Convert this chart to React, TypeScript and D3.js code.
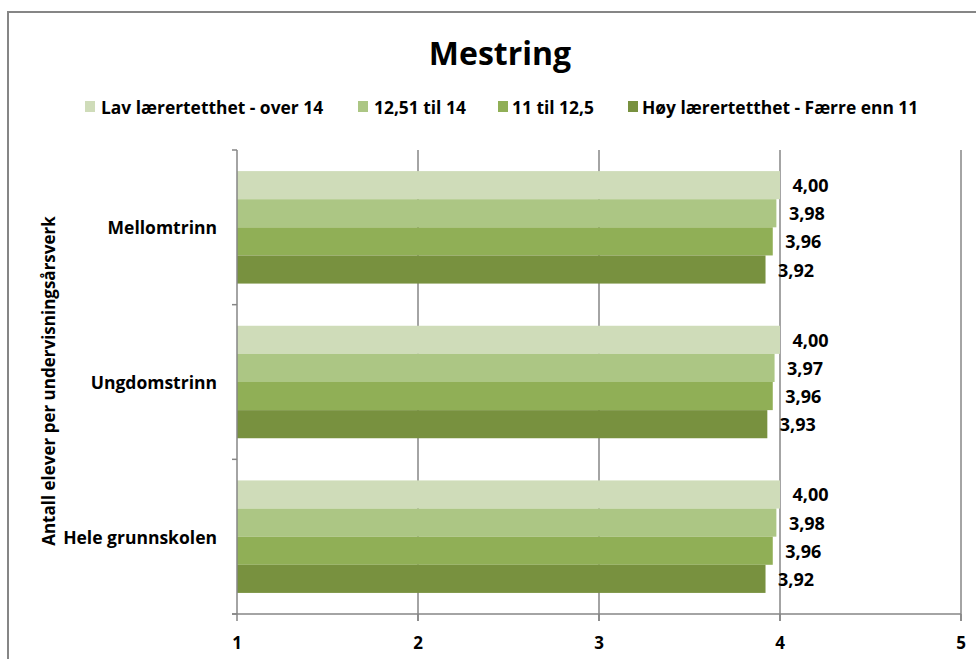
import React from "react";
import * as d3 from "d3";

const categories = ["Mellomtrinn", "Ungdomstrinn", "Hele grunnskolen"];
const seriesNames = [
  "Lav lærertetthet - over 14",
  "12,51 til 14",
  "11 til 12,5",
  "Høy lærertetthet - Færre enn 11",
];
const seriesColors = ["#CFDCB9", "#ACC684", "#90AF56", "#78913F"];
const lavValues = [4.0, 4.0, 4.0];
const s1251Values = [3.98, 3.97, 3.98];
const s11Values = [3.96, 3.96, 3.96];
const hoyValues = [3.92, 3.93, 3.92];
const xTicks = [1, 2, 3, 4, 5];
const title = "Mestring";
const yTitle = "Antall elever per undervisningsårsverk";

const seriesValues = [lavValues, s1251Values, s11Values, hoyValues];

const W = 976;
const H = 659;
const FONT = "'Open Sans', sans-serif";

export default function App() {
  const left = 237;
  const right = 961;
  const top = 150;
  const bottom = 614;
  const x = d3.scaleLinear().domain([1, 5]).range([left, right]);
  const y = d3.scaleBand<string>().domain(categories).range([top, bottom]);
  const bw = y.bandwidth();
  const inner = d3
    .scaleBand<number>()
    .domain(d3.range(seriesNames.length))
    .range([0, bw])
    .paddingInner(0)
    .paddingOuter(0.75);
  const fmt = (v: number) => d3.format(".2f")(v).replace(".", ",");
  const gridColor = "#868686";

  const legendItems = [
    { sx: 85, tx: 101 },
    { sx: 358, tx: 374 },
    { sx: 498, tx: 512 },
    { sx: 628, tx: 642 },
  ];

  return (
    <svg
      width={W}
      height={H}
      style={{ position: "absolute", left: 0, top: 0, background: "#fff" }}
      fontFamily={FONT}
    >
      <rect x={8} y={12} width={W} height={H} fill="#fff" stroke="#868686" strokeWidth={2} />
      <text x={500} y={65} textAnchor="middle" fontSize={32} fontWeight="bold" fill="#000">
        {title}
      </text>
      {seriesNames.map((n, i) => (
        <g key={n}>
          <rect x={legendItems[i].sx} y={101} width={10} height={11} fill={seriesColors[i]} />
          <text x={legendItems[i].tx} y={107} dominantBaseline="central" fontSize={17.4} fontWeight="bold" fill="#000">
            {n}
          </text>
        </g>
      ))}
      {/* gridlines */}
      {xTicks.slice(1).map((t) => (
        <line key={t} x1={x(t)} x2={x(t)} y1={top} y2={bottom + 7} stroke={gridColor} strokeWidth={1.5} />
      ))}
      {/* bars */}
      {categories.map((c, ci) => (
        <g key={c}>
          {seriesValues.map((vals, si) => (
            <rect
              key={si}
              x={x(1)}
              y={(y(c) as number) + (inner(si) as number)}
              width={x(vals[ci]) - x(1)}
              height={inner.bandwidth()}
              fill={seriesColors[si]}
            />
          ))}
        </g>
      ))}
      {/* axes */}
      <line x1={left} x2={left} y1={top} y2={bottom} stroke={gridColor} strokeWidth={1.5} />
      {[top, ...categories.map((c) => (y(c) as number) + bw)].map((ty, i) => (
        <line key={i} x1={left - 5} x2={left} y1={ty} y2={ty} stroke={gridColor} strokeWidth={1.5} />
      ))}
      <line x1={left - 5} x2={right} y1={bottom} y2={bottom} stroke={gridColor} strokeWidth={1.5} />
      {xTicks.map((t) => (
        <g key={t}>
          <line x1={x(t)} x2={x(t)} y1={bottom} y2={bottom + 7} stroke={gridColor} strokeWidth={1.5} />
          <text x={x(t)} y={642} textAnchor="middle" dominantBaseline="central" fontSize={17} fontWeight="bold" fill="#000">
            {t}
          </text>
        </g>
      ))}
      {/* category labels */}
      {categories.map((c) => (
        <text
          key={c}
          x={217}
          y={(y(c) as number) + bw / 2}
          textAnchor="end"
          dominantBaseline="central"
          fontSize={17.5}
          fontWeight="bold"
          fill="#000"
        >
          {c}
        </text>
      ))}
      {/* data labels */}
      {categories.map((c, ci) =>
        seriesValues.map((vals, si) => (
          <text
            key={`${ci}-${si}`}
            x={x(vals[ci]) + 12.5}
            y={(y(c) as number) + (inner(si) as number) + inner.bandwidth() / 2}
            dominantBaseline="central"
            fontSize={18}
            fontWeight="bold"
            fill="#000"
          >
            {fmt(vals[ci])}
          </text>
        ))
      )}
      <text
        transform={`translate(48,${(top + bottom) / 2 - 1}) rotate(-90)`}
        textAnchor="middle"
        dominantBaseline="central"
        fontSize={17}
        fontWeight="bold"
        fill="#000"
      >
        {yTitle}
      </text>
    </svg>
  );
}
